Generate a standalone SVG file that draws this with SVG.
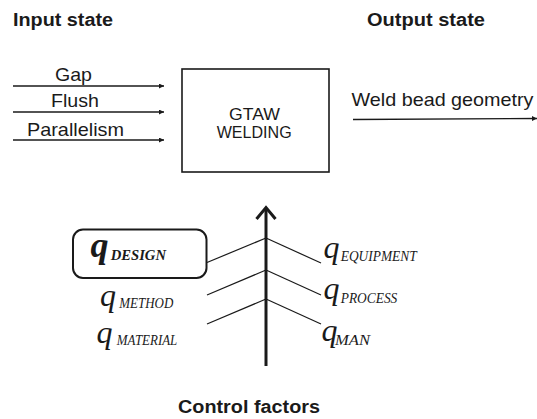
<svg xmlns="http://www.w3.org/2000/svg" width="537" height="419" viewBox="0 0 537 419">
<defs>
<style>
.title{font-family:"Liberation Sans",Arial,sans-serif;font-weight:bold;font-size:17.5px;fill:#1a1a1a}
.lbl{font-family:"Liberation Sans",Arial,sans-serif;font-size:18.5px;fill:#1a1a1a}
.box{font-family:"Liberation Sans",Arial,sans-serif;font-size:17px;fill:#1a1a1a}
.q{font-family:"Liberation Serif","Times New Roman",serif;font-style:italic;font-size:32px;fill:#1a1a1a}
.sub{font-family:"Liberation Serif","Times New Roman",serif;font-style:italic;font-size:14.5px;fill:#1a1a1a}
.arr{stroke:#1a1a1a;stroke-width:1.3;fill:none;marker-end:url(#ah)}
.br{stroke:#1a1a1a;stroke-width:1.2;fill:none}
</style>
<marker id="ah" viewBox="0 0 10 10" refX="10" refY="5" markerWidth="6" markerHeight="5" markerUnits="userSpaceOnUse" orient="auto">
<path d="M0,0 L10,5 L0,10 z" fill="#1a1a1a"/>
</marker>
</defs>
<rect width="537" height="419" fill="#ffffff"/>

<g id="titles">
<text class="title" x="13" y="26" textLength="100" lengthAdjust="spacingAndGlyphs">Input state</text>
<text class="title" x="367" y="26" textLength="118" lengthAdjust="spacingAndGlyphs">Output state</text>
<text class="title" x="178" y="413" textLength="142" lengthAdjust="spacingAndGlyphs">Control factors</text>
</g>

<g id="process">
<rect x="182" y="69" width="147" height="103" fill="none" stroke="#1a1a1a" stroke-width="1.6"/>
<text class="box" x="229" y="120" textLength="51" lengthAdjust="spacingAndGlyphs">GTAW</text>
<text class="box" x="216.7" y="137.5" textLength="75" lengthAdjust="spacingAndGlyphs">WELDING</text>
</g>

<g id="input-gap"><text class="lbl" x="55" y="81" textLength="37" lengthAdjust="spacingAndGlyphs">Gap</text></g>
<g id="input-flush"><text class="lbl" x="51" y="107" textLength="48" lengthAdjust="spacingAndGlyphs">Flush</text></g>
<g id="input-parallelism"><text class="lbl" x="27" y="136" textLength="97" lengthAdjust="spacingAndGlyphs">Parallelism</text></g>
<g id="output-weld"><text class="lbl" x="351.5" y="105.5" textLength="182" lengthAdjust="spacingAndGlyphs">Weld bead geometry</text></g>

<g id="connectors">
<line class="arr" x1="13" y1="86" x2="164" y2="86"/>
<line class="arr" x1="13" y1="112" x2="164" y2="112"/>
<line class="arr" x1="13" y1="140" x2="164" y2="140"/>
<line class="arr" x1="353" y1="119.5" x2="537" y2="118.5"/>
<line x1="266" y1="366" x2="266" y2="208" stroke="#1a1a1a" stroke-width="3"/>
<polyline points="256.5,219 266,207.5 275.5,219" fill="none" stroke="#1a1a1a" stroke-width="3" stroke-linejoin="miter"/>
<line class="br" x1="266" y1="238" x2="207" y2="262.5"/>
<line class="br" x1="266" y1="270" x2="207" y2="295"/>
<line class="br" x1="266" y1="299" x2="207" y2="324"/>
<line class="br" x1="266" y1="238" x2="321" y2="263"/>
<line class="br" x1="266" y1="270" x2="321" y2="295"/>
<line class="br" x1="266" y1="299" x2="321" y2="324"/>
</g>

<g id="q-design">
<rect x="73" y="229.5" width="133.5" height="48.5" rx="10" fill="none" stroke="#1a1a1a" stroke-width="2"/>
<text x="90.5" y="256.6" font-family="'Liberation Serif','Times New Roman',serif" font-style="italic" font-weight="bold" font-size="36" fill="#1a1a1a">q</text>
<text x="110.7" y="260" font-family="'Liberation Serif','Times New Roman',serif" font-style="italic" font-weight="bold" font-size="15" fill="#1a1a1a" textLength="55.3" lengthAdjust="spacingAndGlyphs">DESIGN</text>
</g>
<g id="q-method">
<text class="q" x="100" y="306.4">q</text>
<text class="sub" x="119.3" y="308.3" textLength="54" lengthAdjust="spacingAndGlyphs">METHOD</text>
</g>
<g id="q-material">
<text class="q" x="96.5" y="342.7">q</text>
<text class="sub" x="116.7" y="345" textLength="60.6" lengthAdjust="spacingAndGlyphs">MATERIAL</text>
</g>
<g id="q-equipment">
<text class="q" x="323.5" y="257.7">q</text>
<text class="sub" x="340.7" y="261" textLength="76" lengthAdjust="spacingAndGlyphs">EQUIPMENT</text>
</g>
<g id="q-process">
<text class="q" x="323.5" y="298.7">q</text>
<text class="sub" x="340.7" y="302.7" textLength="56.6" lengthAdjust="spacingAndGlyphs">PROCESS</text>
</g>
<g id="q-man">
<text class="q" x="321.5" y="341">q</text>
<text class="sub" x="335" y="345" textLength="35" lengthAdjust="spacingAndGlyphs">MAN</text>
</g>
</svg>
